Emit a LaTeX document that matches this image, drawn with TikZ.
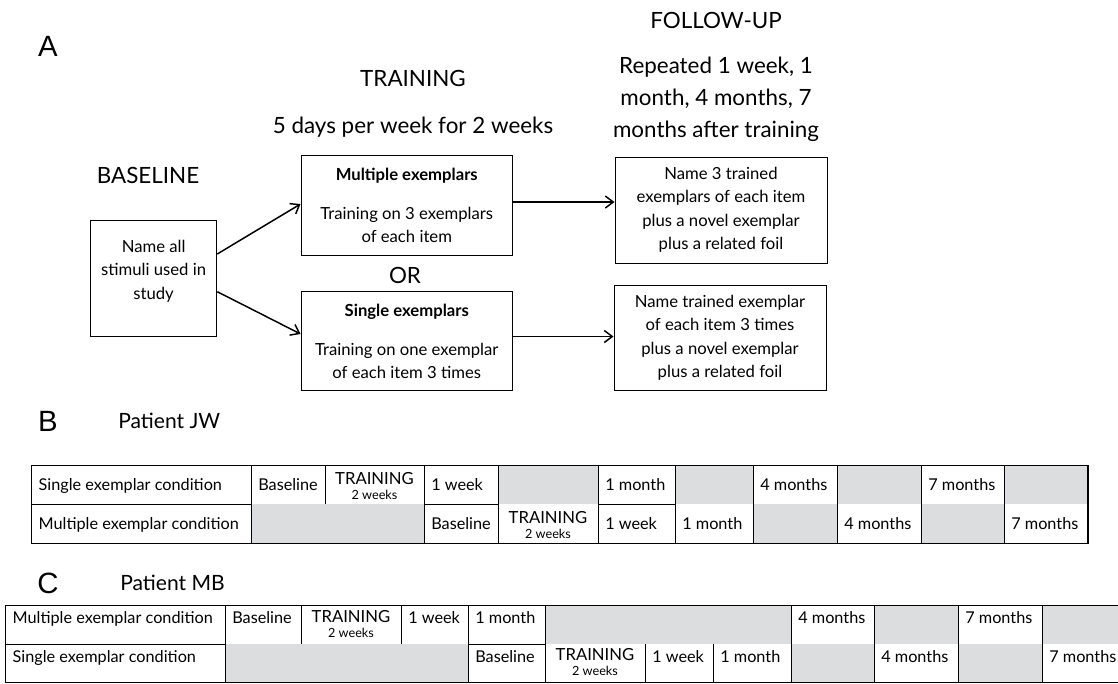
\documentclass[tikz,border=0pt]{standalone}
\usepackage{fontspec}
\setmainfont{Lato}
\newfontfamily\panelfont{Liberation Sans}
\usetikzlibrary{positioning,arrows.meta}
\definecolor{cellgray}{HTML}{DCDDDF}

\begin{document}
\begin{tikzpicture}
 [x=0.75pt, y=-0.75pt,
  panel/.style={font=\panelfont\fontsize{22}{22}\selectfont, inner sep=0pt},
  head/.style={font=\fontsize{16.8}{24}\selectfont, align=center, inner sep=0pt, anchor=base},
  box/.style={draw, line width=0.75pt, align=center, inner sep=0pt, font=\fontsize{12.5}{17.6}\selectfont},
  flow/.style={-{Straight Barb[length=6pt,width=9pt]}, line width=1.1pt},
  cell/.style={anchor=base west, inner sep=0pt, font=\fontsize{12.2}{13}\selectfont},
  train/.style={align=center, inner sep=0pt, font=\fontsize{12.5}{11.5}\selectfont},
  grid/.style={line width=0.75pt},
  frame/.style={line width=1.1pt}]
 \useasboundingbox (0,0) rectangle (1118,683);
 % panel A
 \node (a) [panel] at (48,46) {A};
 \node (trainhead) [head] at (413,86.7) {TRAINING};
 \node (trainsub) [head] at (413,133) {5 days per week for 2 weeks};
 \node (fuhead) [head] at (716,28.3) {FOLLOW-UP};
 \node (fusub) [head] at (716,137) {Repeated 1 week, 1\\month, 4 months, 7\\months after training};
 \node (basehead) [head] at (148,183.3) {BASELINE};
 \node (base) [box, minimum width=94.8pt, minimum height=86.3pt] at (153.6,278.5) {};
 \node (basetext) [box, draw=none] at (153.6,271) {Name all\\stimuli used in\\study};
 \node (multi) [box, minimum width=158.6pt, minimum height=74.7pt] at (406.75,205.5)
  {\textbf{Multiple exemplars}\\[11.5pt]Training on 3 exemplars\\of each item};
 \node (or) [head, anchor=center] at (405,275) {OR};
 \node (single) [box, minimum width=158.6pt, minimum height=74.5pt] at (406.75,341.3)
  {\textbf{Single exemplars}\\[11.5pt]Training on one exemplar\\of each item 3 times};
 \node (fu1) [box, minimum width=159pt, minimum height=79.5pt] at (721,210)
  {Name 3 trained\\exemplars of each item\\plus a novel exemplar\\plus a related foil};
 \node (fu2) [box, minimum width=159pt, minimum height=79.3pt] at (720,338)
  {Name trained exemplar\\of each item 3 times\\plus a novel exemplar\\plus a related foil};
 \draw[flow] ([yshift=18.4pt]base.east) -- ([yshift=1.1pt]multi.west);
 \draw[flow] ([yshift=-9.9pt]base.east) -- ([yshift=5.5pt]single.west);
 \draw[flow] ([yshift=2.6pt]multi.east) -- ([yshift=2.6pt]multi.east -| fu1.west);
 \draw[flow] ([yshift=3.6pt]single.east) -- ([yshift=3.6pt]single.east -| fu2.west);
 % panel B
 \node (b) [panel] at (48,421) {B};
 \node (jw) [anchor=west, inner sep=0pt, font=\fontsize{15.8}{15.8}\selectfont] at (118,421) {Patient JW};
 \foreach \xa/\xb in {498/598, 675/753, 837/921, 1004/1088}
  \fill[cellgray] (\xa,465.7) rectangle (\xb,504.3);
 \foreach \xa/\xb in {251/424, 753/837, 921/1004}
  \fill[cellgray] (\xa,504.3) rectangle (\xb,543.3);
 \foreach \x in {251,325,424,498,598,675,753,837,921,1004}
  \draw[grid] (\x,465.7) -- (\x,504.3);
 \foreach \x in {251,424,498,598,675,753,837,921,1004}
  \draw[grid] (\x,504.3) -- (\x,543.3);
 \foreach \xa/\xb in {31.4/251, 424/498, 598/675}
  \draw[grid] (\xa,504.3) -- (\xb,504.3);
 \draw[frame] (31.4,465.7) rectangle (1088,543.3);
 \foreach \x/\t [count=\i] in {31.4/Single exemplar condition, 251/Baseline, 424/1 week, 598/1 month, 753/4 months, 921/7 months}
  \node (bt\i) [cell] at (\x+7,490) {\t};
 \node (bt7) [train] at (374.5,486) {TRAINING\\{\fontsize{9.5}{10}\selectfont 2 weeks}};
 \foreach \x/\t [count=\i] in {31.4/Multiple exemplar condition, 424/Baseline, 598/1 week, 675/1 month, 837/4 months, 1004/7 months}
  \node (bb\i) [cell] at (\x+7,529) {\t};
 \node (bb7) [train] at (548,525) {TRAINING\\{\fontsize{9.5}{10}\selectfont 2 weeks}};
 % panel C
 \node (c) [panel] at (48,583) {C};
 \node (mb) [anchor=west, inner sep=0pt, font=\fontsize{15.8}{15.8}\selectfont] at (120,583) {Patient MB};
 \foreach \xa/\xb in {545/791, 874/958, 1042/1125}
  \fill[cellgray] (\xa,605.7) rectangle (\xb,644);
 \foreach \xa/\xb in {225/468, 791/874, 958/1042}
  \fill[cellgray] (\xa,644) rectangle (\xb,682.5);
 \foreach \x in {225,301,401,468,545,791,874,958,1042}
  \draw[grid] (\x,605.7) -- (\x,644);
 \foreach \x in {225,468,545,645,713,791,874,958,1042}
  \draw[grid] (\x,644) -- (\x,682.5);
 \foreach \xa/\xb in {5.4/225, 468/545}
  \draw[grid] (\xa,644) -- (\xb,644);
 \draw[frame] (5.4,605.7) rectangle (1125,682.5);
 \foreach \x/\t [count=\i] in {5.4/Multiple exemplar condition, 225/Baseline, 401/1 week, 468/1 month, 791/4 months, 958/7 months}
  \node (ct\i) [cell] at (\x+7,623) {\t};
 \node (ct7) [train] at (351,624) {TRAINING\\{\fontsize{9.5}{10}\selectfont 2 weeks}};
 \foreach \x/\t [count=\i] in {5.4/Single exemplar condition, 468/Baseline, 645/1 week, 713/1 month, 874/4 months, 1042/7 months}
  \node (cb\i) [cell] at (\x+7,662) {\t};
 \node (cb7) [train] at (595,662) {TRAINING\\{\fontsize{9.5}{10}\selectfont 2 weeks}};
\end{tikzpicture}
\end{document}
